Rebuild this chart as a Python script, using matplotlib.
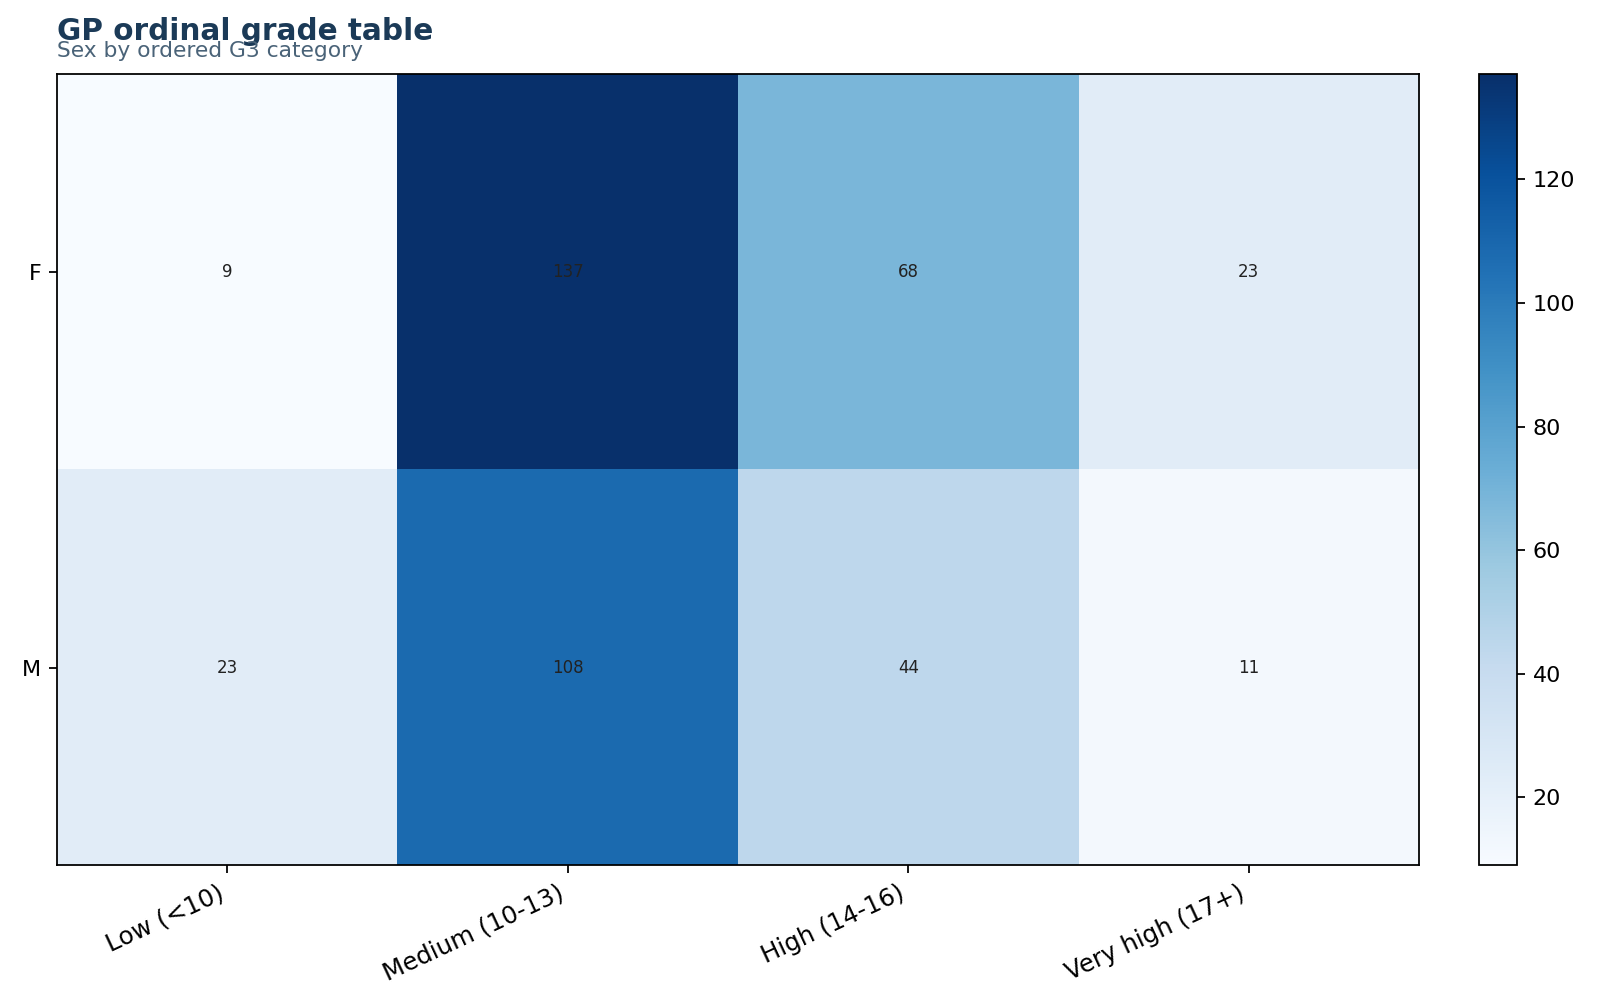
import numpy as np
import matplotlib.pyplot as plt

sexes = ["F", "M"]
grade_bins = ["Low (<10)", "Medium (10-13)", "High (14-16)", "Very high (17+)"]
counts_f = [9, 137, 68, 23]
counts_m = [23, 108, 44, 11]

table = np.array([counts_f, counts_m])

fig = plt.figure(figsize=(10, 6.28125), dpi=160)
ax = fig.add_axes([0.0356, 0.139, 0.8513, 0.787])
cax = fig.add_axes([0.9244, 0.139, 0.0238, 0.787])

im = ax.imshow(table, cmap="Blues", aspect="auto")
cb = fig.colorbar(im, cax=cax)

for i in range(table.shape[0]):
    for j in range(table.shape[1]):
        ax.text(j, i, str(table[i, j]), ha="center", va="center",
                fontsize=7.5, color="#222222")

ax.set_xticks(range(len(grade_bins)))
ax.set_xticklabels(grade_bins, rotation=25, ha="right", fontsize=11)
ax.set_yticks(range(len(sexes)))
ax.set_yticklabels(sexes)

fig.text(0.0356, 0.960, "GP ordinal grade table", fontsize=13.3,
         fontweight="bold", color="#1b3a57", ha="left", va="baseline")
fig.text(0.0356, 0.943, "Sex by ordered G3 category", fontsize=9.8,
         color="#4a6378", ha="left", va="baseline")

fig.savefig("out.png", dpi=160)
